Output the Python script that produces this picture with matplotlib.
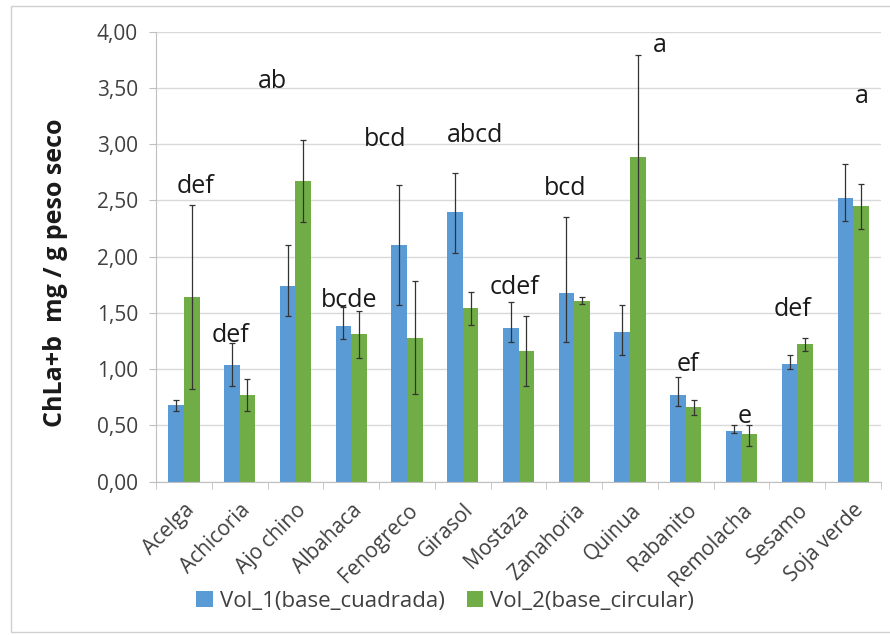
import matplotlib
matplotlib.use("Agg")
import matplotlib.pyplot as plt
import numpy as np
from matplotlib.ticker import FuncFormatter, FixedLocator
from matplotlib.patches import Rectangle

plt.rcParams['font.family'] = ['Open Sans', 'DejaVu Sans']

categories = ["Acelga", "Achicoria", "Ajo chino", "Albahaca", "Fenogreco", "Girasol",
              "Mostaza", "Zanahoria", "Quinua", "Rabanito", "Remolacha", "Sesamo", "Soja verde"]
vol1 = [0.68, 1.04, 1.74, 1.38, 2.10, 2.40, 1.37, 1.68, 1.33, 0.77, 0.45, 1.05, 2.52]
vol1_err_lo = [0.05, 0.19, 0.27, 0.11, 0.53, 0.37, 0.13, 0.44, 0.20, 0.10, 0.02, 0.05, 0.20]
vol1_err_hi = [0.05, 0.19, 0.36, 0.17, 0.54, 0.34, 0.23, 0.67, 0.24, 0.16, 0.05, 0.08, 0.30]
vol2 = [1.64, 0.77, 2.67, 1.31, 1.28, 1.54, 1.16, 1.61, 2.89, 0.66, 0.42, 1.22, 2.45]
vol2_err_lo = [0.82, 0.14, 0.36, 0.21, 0.50, 0.15, 0.31, 0.03, 0.90, 0.07, 0.10, 0.06, 0.20]
vol2_err_hi = [0.82, 0.14, 0.37, 0.21, 0.50, 0.15, 0.31, 0.03, 0.90, 0.07, 0.08, 0.06, 0.20]
letters = ["def", "def", "ab", "bcde", "bcd", "abcd", "cdef", "bcd", "a", "ef", "e", "def", "a"]
letter_dx = [0.20, -0.16, -0.41, -0.04, -0.39, 0.22, -0.08, -0.17, 0.54, 0.03, 0.05, -0.08, 0.15]
letter_y = [2.62, 1.30, 3.56, 1.61, 3.04, 3.08, 1.73, 2.61, 3.88, 1.04, 0.58, 1.53, 3.42]
series_names = ["Vol_1(base_cuadrada)", "Vol_2(base_circular)"]

blue = "#5B9BD5"
green = "#70AD47"
txt = "#404040"

fig = plt.figure(figsize=(8.9, 6.35), dpi=100)
fig.patches.append(Rectangle((11/890, 3/635), 1.0, 1 - 9/635, transform=fig.transFigure,
                             fill=False, edgecolor="#D0D0D0", linewidth=1.0))
ax = fig.add_axes([156/890, 1 - 481.7/635, (881 - 156)/890, (481.7 - 31.7)/635])

x = np.arange(len(categories))
w = 0.28
ekw = dict(ecolor="#333333", elinewidth=0.9, capsize=2.5, capthick=0.9)
ax.bar(x - w/2, vol1, w, color=blue, label=series_names[0], zorder=2,
       yerr=[vol1_err_lo, vol1_err_hi], error_kw=ekw)
ax.bar(x + w/2, vol2, w, color=green, label=series_names[1], zorder=2,
       yerr=[vol2_err_lo, vol2_err_hi], error_kw=ekw)

for i, (t, dx, yy) in enumerate(zip(letters, letter_dx, letter_y)):
    ax.text(i + dx, yy, t, ha="center", va="center", fontsize=18, color="#1a1a1a")

ax.set_xlim(-0.5, len(categories) - 0.5)
ax.set_ylim(0, 4)
ax.set_yticks(np.arange(0, 4.01, 0.5))
ax.yaxis.set_major_formatter(FuncFormatter(lambda v, p: f"{v:.2f}".replace(".", ",")))
ax.yaxis.grid(True, color="#D9D9D9", linewidth=1.0, zorder=0)
ax.set_axisbelow(True)

ax.set_xticks(x)
ax.set_xticklabels(categories, rotation=45, ha="right", rotation_mode="anchor",
                   fontsize=15, color=txt)
ax.xaxis.set_minor_locator(FixedLocator(np.arange(-0.5, len(categories), 1.0)))
ax.tick_params(axis="x", which="major", length=0, pad=13)
ax.tick_params(axis="x", which="minor", length=5, color="#BFBFBF")
ax.tick_params(axis="y", length=5, color="#BFBFBF", labelsize=15, labelcolor=txt, pad=8)

for s in ["top", "right"]:
    ax.spines[s].set_visible(False)
for s in ["left", "bottom"]:
    ax.spines[s].set_color("#BFBFBF")

fig.text(55/890, 1 - 273/635, "ChLa+b  mg / g peso seco", rotation=90, ha="center",
         va="center", fontsize=18, fontweight="bold", color="#1a1a1a")

fig.legend(loc="center", bbox_to_anchor=(445/890, 1 - 601/635), ncol=2, frameon=False,
           fontsize=16, handlelength=0.75, handleheight=0.75, handletextpad=0.3,
           columnspacing=1.0, labelcolor=txt)

fig.savefig("out.png", dpi=100)
